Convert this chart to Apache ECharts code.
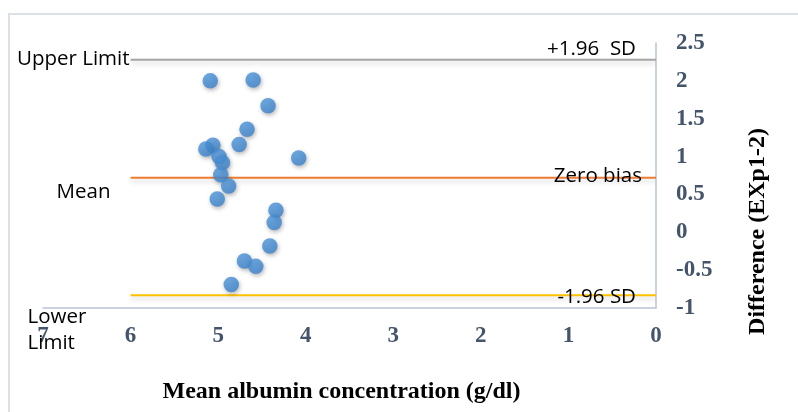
<!DOCTYPE html>
<html>
<head>
<meta charset="utf-8">
<script src="https://cdn.jsdelivr.net/npm/echarts@6/dist/echarts.min.js"></script>
<style>
  html, body { margin: 0; padding: 0; background: #fff; }
  #frame { position: absolute; left: 8px; top: 13px; width: 820px; height: 430px; border-left: 2px solid #DCE1E8; border-top: 2px solid #DCE1E8; }
  #chart { position: absolute; left: 0; top: 0; width: 798px; height: 412px; }
</style>
</head>
<body>
<div id="frame"></div>
<div id="chart"></div>
<script>
// Mean albumin concentration (g/dl) of each sample
const meanConc = [5.09, 4.60, 4.43, 4.67, 4.76, 5.06, 5.14, 4.99, 4.95, 4.08, 4.97, 4.88, 5.01, 4.34, 4.36, 4.41, 4.70, 4.57, 4.85];
// Difference (EXp1-2)
const difference = [2.00, 2.01, 1.67, 1.36, 1.16, 1.15, 1.10, 1.00, 0.92, 0.98, 0.76, 0.61, 0.44, 0.29, 0.13, -0.18, -0.38, -0.45, -0.69];
// Limits of agreement
const limitRange = [6, 0];
const upperLimit = 2.28;
const meanBias = 0.72;
const lowerLimit = -0.83;
// Axis settings
const xMin = 0, xMax = 7, xStep = 1;
const yMin = -1, yMax = 2.5, yStep = 0.5;

const labelFont = { fontFamily: 'Open Sans', fontSize: 20.5, color: '#000' };
const tickFont = { fontFamily: 'Liberation Serif', fontWeight: 'bold', fontSize: 23, color: '#44546A' };
const nameFont = { fontFamily: 'Liberation Serif', fontWeight: 'bold', fontSize: 24, color: '#000' };

function limitSeries(name, value, color, leftLabel, rightLabel) {
  return {
    name: name,
    type: 'line',
    data: [
      { value: [limitRange[0], value], label: Object.assign({ show: true }, labelFont, leftLabel) },
      { value: [limitRange[1], value], label: Object.assign({ show: true }, labelFont, rightLabel) }
    ],
    symbol: 'circle',
    symbolSize: 0.01,
    showSymbol: true,
    silent: true,
    z: 2,
    itemStyle: { color: 'rgba(0,0,0,0)' },
    lineStyle: { color: color, width: 2, shadowColor: 'rgba(0,0,0,0.18)', shadowBlur: 5, shadowOffsetY: 3 },
    label: { show: true }
  };
}

const chart = echarts.init(document.getElementById('chart'), null, { renderer: 'canvas' });
chart.setOption({
  animation: false,
  backgroundColor: 'transparent',
  grid: { left: 43, right: 142, top: 43, bottom: 104, containLabel: false },
  xAxis: {
    type: 'value', min: xMin, max: xMax, interval: xStep, inverse: true,
    name: 'Mean albumin concentration (g/dl)',
    nameLocation: 'middle', nameGap: 72,
    nameTextStyle: Object.assign({ padding: [0, 16, 0, 0] }, nameFont),
    axisLine: { show: true, onZero: false, lineStyle: { color: '#B9C4D6', width: 1.5 } },
    axisTick: { show: false },
    splitLine: { show: false },
    axisLabel: Object.assign({ margin: 17 }, tickFont)
  },
  yAxis: {
    type: 'value', min: yMin, max: yMax, interval: yStep, position: 'right',
    name: 'Difference (EXp1-2)',
    nameLocation: 'middle', nameGap: 90, nameRotate: 90,
    nameTextStyle: Object.assign({ padding: [0, 112, 0, 0] }, nameFont),
    axisLine: { show: true, onZero: false, lineStyle: { color: '#B9C4D6', width: 1.5 } },
    axisTick: { show: false },
    splitLine: { show: false },
    axisLabel: Object.assign({ margin: 20, align: 'left' }, tickFont)
  },
  series: [
    limitSeries('Upper', upperLimit, '#A5A5A5',
      { formatter: 'Upper Limit', position: 'left', distance: 1, offset: [0, -1] },
      { formatter: '+1.96  SD', position: 'left', distance: 5, offset: [-15, -11] }),
    limitSeries('Mean', meanBias, '#ED7D31',
      { formatter: 'Mean', position: 'left', distance: 5, align: 'left', offset: [-69, 14] },
      { formatter: 'Zero bias', position: 'left', distance: 5, offset: [-9, -2] }),
    limitSeries('Lower', lowerLimit, '#FFC000',
      { formatter: 'Lower\nLimit', position: 'left', distance: 5, align: 'left', lineHeight: 26, offset: [-98, 35] },
      { formatter: '-1.96 SD', position: 'left', distance: 5, offset: [-15, 2] }),
    {
      name: 'Difference',
      type: 'scatter',
      data: meanConc.map((x, i) => [x, difference[i]]),
      symbolSize: 15.5,
      z: 5,
      itemStyle: {
        color: new echarts.graphic.RadialGradient(0.4, 0.35, 0.7, [
          { offset: 0, color: '#4F98DE' },
          { offset: 1, color: '#3A82CC' }
        ]),
        shadowColor: 'rgba(0,0,0,0.35)', shadowBlur: 4, shadowOffsetY: 2, shadowOffsetX: 1
      }
    }
  ]
});
</script>
</body>
</html>
